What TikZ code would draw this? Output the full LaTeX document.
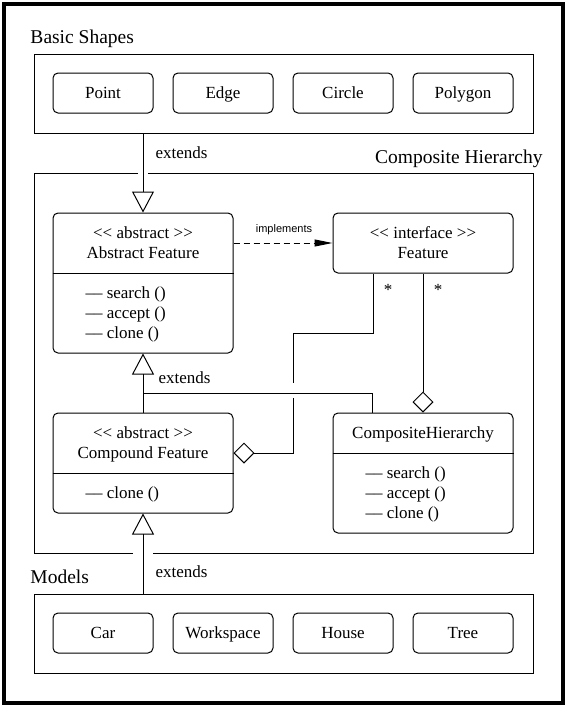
\documentclass[tikz,border=0pt]{standalone}
\usepackage{fontspec}
\setmainfont{Liberation Serif}
\newfontfamily\labelsans{Liberation Sans}
\usetikzlibrary{arrows.meta}

\tikzset{
  group/.style={draw, minimum width=499pt, minimum height=79pt},
  item/.style={draw, rounded corners=5pt, minimum width=100pt, minimum height=40pt},
  umlclass/.style={draw, rounded corners=5pt, minimum width=180pt},
  txt/.style={inner sep=0pt, font=\fontsize{17}{20}\selectfont},
  heading/.style={inner sep=0pt, font=\fontsize{19.5}{23}\selectfont},
  extends/.style={-{Triangle[open,length=21pt,width=22pt]}},
  aggregates/.style={{Diamond[open,length=21pt,width=21pt]}-},
  implements/.style={dash pattern=on 6pt off 4pt,-{Triangle[length=18pt,width=7pt]}},
  cut/.style={draw=white, line width=2pt}
}

\begin{document}
\begin{tikzpicture}[x=1pt,y=-1pt,line width=1pt]
\useasboundingbox (0,0) rectangle (567,707);
\draw [line width=4pt] (4,4) rectangle (563,703);

\node [heading, anchor=base west] (basiclabel) at (30,43) {Basic Shapes};
\node [group] (basic) at (283.5,93.5) {};
\foreach \name/\x in {Point/103,Edge/223,Circle/343,Polygon/463}
  \node [item] (\name) at (\x,93) {};
\foreach \name/\x in {Point/103,Edge/223,Circle/343,Polygon/463}
  \node [txt, anchor=base] (\name-text) at (\x,98) {\name};

\node [heading, anchor=base east] (complabel) at (543,163) {Composite Hierarchy};
\node [group, minimum height=380pt] (comp) at (283.5,363) {};

\node [heading, anchor=base west] (modlabel) at (30,583) {Models};
\node [group] (models) at (283.5,633.5) {};
\foreach \name/\x in {Car/103,Workspace/223,House/343,Tree/463}
  \node [item] (\name) at (\x,633) {};
\foreach \name/\x in {Car/103,Workspace/223,House/343,Tree/463}
  \node [txt, anchor=base] (\name-text) at (\x,638) {\name};

\node [umlclass, minimum height=140pt] (absf) at (143,283) {};
\draw (absf.west |- 0,273) -- (absf.east |- 0,273);
\node [txt, anchor=base] (absf-st) at (143,238) {<{}< abstract >{}>};
\node [txt, anchor=base] (absf-name) at (143,258) {Abstract Feature};
\foreach \m [count=\i] in {search,accept,clone}
  \node [txt, anchor=base west] (absf-m\i) at (85,278+20*\i) {\textendash\textendash\ \m\ ()};

\node [umlclass, minimum height=60pt] (feat) at (423,243) {};
\node [txt, anchor=base] (feat-st) at (423,238) {<{}< interface >{}>};
\node [txt, anchor=base] (feat-name) at (423,258) {Feature};

\node [umlclass, minimum height=100pt] (comf) at (143,463) {};
\draw (comf.west |- 0,473) -- (comf.east |- 0,473);
\node [txt, anchor=base] (comf-st) at (143,438) {<{}< abstract >{}>};
\node [txt, anchor=base] (comf-name) at (143,458) {Compound Feature};
\node [txt, anchor=base west] (comf-m1) at (85,498) {\textendash\textendash\ clone ()};

\node [umlclass, minimum height=120pt] (comh) at (423,473) {};
\draw (comh.west |- 0,453) -- (comh.east |- 0,453);
\node [txt, anchor=base] (comh-name) at (423,438) {CompositeHierarchy};
\foreach \m [count=\i] in {search,accept,clone}
  \node [txt, anchor=base west] (comh-m\i) at (365,458+20*\i) {\textendash\textendash\ \m\ ()};

\draw [cut] (138,173) -- (148,173);
\draw [extends] (basic.south -| absf.north) -- (absf.north);
\node [txt, anchor=base west] (ext1) at (155,158) {extends};

\draw [implements] (absf.east |- feat.west) -- (feat.west);
\node [inner sep=0pt, anchor=base, font=\labelsans\fontsize{11}{13}\selectfont] (impl) at (284,232) {implements};

\coordinate (hop) at (293,333);
\draw [aggregates] ([yshift=10pt]comf.east) -| (hop) -| ([xshift=-50pt]feat.south);
\node [txt, anchor=base] (star1) at (388,295) {*};
\draw [aggregates] (comh.north) -- (feat.south);
\node [txt, anchor=base] (star2) at (438,295) {*};

\fill [white] (290,383) rectangle (296,398);
\coordinate (join) at (143,393);
\draw [extends] (comf.north) -- (absf.south);
\draw ([xshift=40pt]comh.north west) |- (join);
\node [txt, anchor=base west] (ext2) at (158,383) {extends};

\draw [cut] (133,553) -- (153,553);
\draw [extends] (models.north -| comf.south) -- (comf.south);
\node [txt, anchor=base west] (ext3) at (155,577) {extends};
\end{tikzpicture}
\end{document}
